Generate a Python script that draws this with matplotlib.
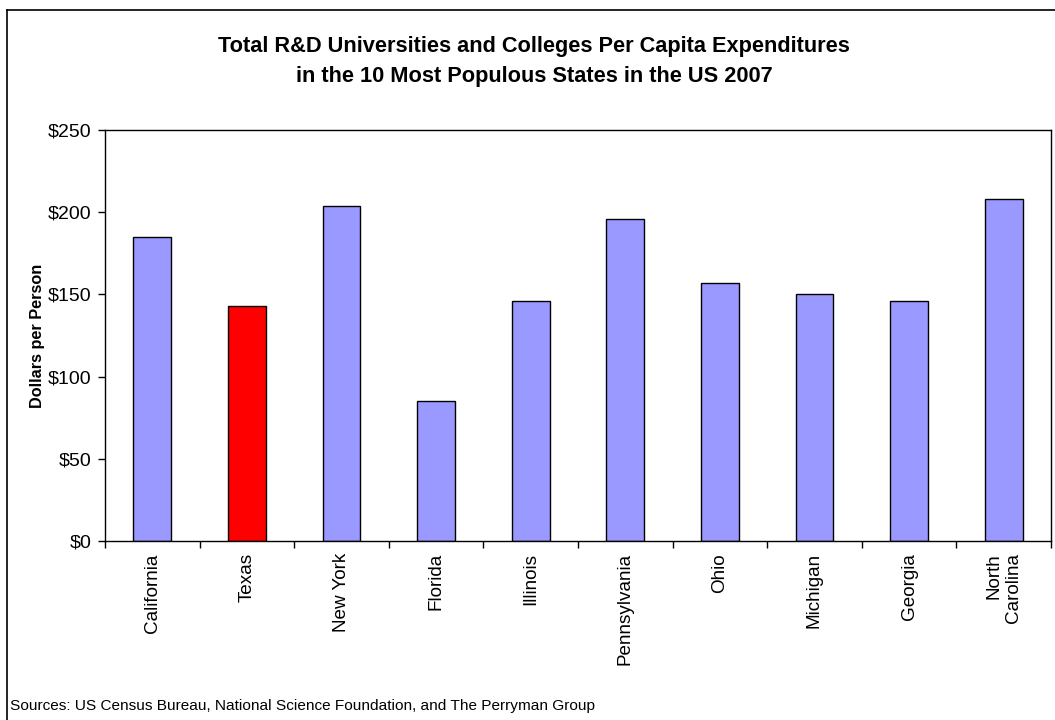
import matplotlib
matplotlib.use("Agg")
import matplotlib.pyplot as plt
import numpy as np
from matplotlib.lines import Line2D
from matplotlib.ticker import FuncFormatter, MultipleLocator

# values
states = ["California", "Texas", "New York", "Florida", "Illinois",
          "Pennsylvania", "Ohio", "Michigan", "Georgia", "North\nCarolina"]
dollars = [185, 143, 204, 85, 146, 196, 157, 150, 146, 208]
highlight = "Texas"

title = ("Total R&D Universities and Colleges Per Capita Expenditures\n"
         "in the 10 Most Populous States in the US 2007")
ylabel = "Dollars per Person"
source = "Sources: US Census Bureau, National Science Foundation, and The Perryman Group"

plt.rcParams["font.family"] = ["Liberation Sans", "DejaVu Sans"]

W, H = 1055, 720
fig = plt.figure(figsize=(W / 100, H / 100), dpi=100)
ax = fig.add_axes([105 / W, 1 - 540.7 / H, (1051 - 105) / W, (540.7 - 130.3) / H])

x = np.arange(len(states))
colors = ["#FF0000" if s == highlight else "#9999FF" for s in states]
ax.bar(x, dollars, width=0.4, color=colors, edgecolor="black", linewidth=1.0, zorder=2)

ax.set_xlim(-0.5, len(states) - 0.5)
ax.set_ylim(0, 250)
ax.yaxis.set_major_locator(MultipleLocator(50))
ax.yaxis.set_major_formatter(FuncFormatter(lambda v, _: f"${v:.0f}"))
ax.tick_params(axis="y", direction="out", length=5, width=1, labelsize=14, pad=5)

# category labels at centres, tick marks at category boundaries
ax.set_xticks(x)
ax.set_xticklabels(states, rotation=90, fontsize=13.6, va="top", ha="center",
                   multialignment="right")
ax.tick_params(axis="x", which="major", length=0, pad=9)
ax.set_xticks(np.arange(-0.5, len(states)), minor=True)
ax.tick_params(axis="x", which="minor", direction="out", length=5, width=1)

for sp in ax.spines.values():
    sp.set_linewidth(1.0)
    sp.set_color("black")

fig.text(534 / W, 1 - 61.5 / H, title, ha="center", va="center",
         fontsize=15.7, fontweight="bold", linespacing=1.58)
fig.text(38 / W, 1 - 336 / H, ylabel, rotation=90, ha="center", va="center",
         fontsize=11.7, fontweight="bold")
fig.text(10 / W, 1 - 706 / H, source, ha="left", va="center", fontsize=11.1)

# chart area frame (only left and top edges visible in the reference)
fig.add_artist(Line2D([7 / W, 7 / W], [0, 1 - 10 / H], transform=fig.transFigure,
                      color="black", linewidth=1.2))
fig.add_artist(Line2D([7 / W, 1], [1 - 10 / H, 1 - 10 / H], transform=fig.transFigure,
                      color="black", linewidth=1.2))

fig.savefig("out.png", dpi=100)
